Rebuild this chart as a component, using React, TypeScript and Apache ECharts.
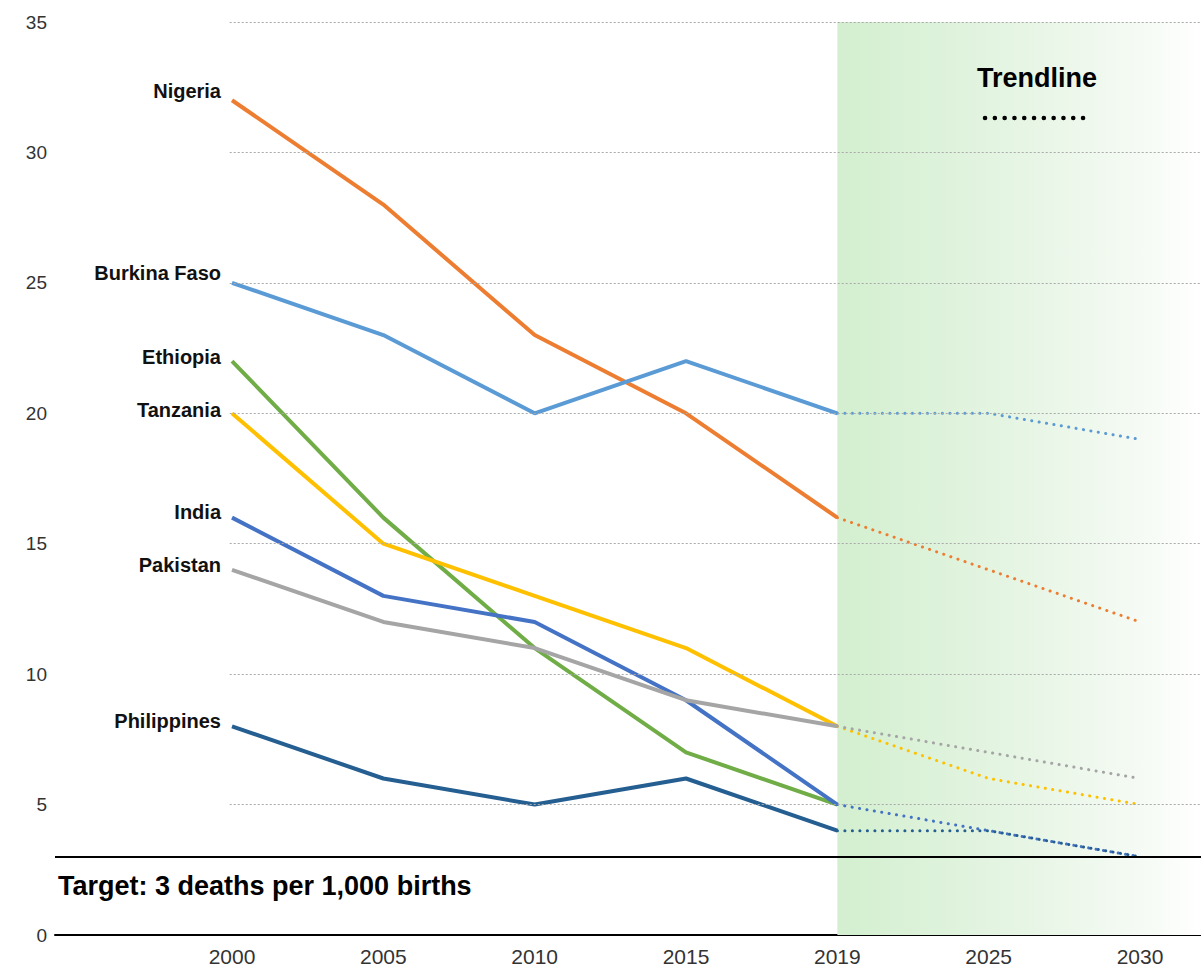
import React, { useEffect, useRef } from "react";
import * as echarts from "echarts";

const years = ["2000", "2005", "2010", "2015", "2019", "2025", "2030"];
const countries = ["Nigeria", "Burkina Faso", "Ethiopia", "Tanzania", "India", "Pakistan", "Philippines"];
const colors = ["#ED7D31", "#5B9BD5", "#70AD47", "#FFC000", "#4472C4", "#A5A5A5", "#255E91"];
const actual = [
  [32, 28, 23, 20, 16],
  [25, 23, 20, 22, 20],
  [22, 16, 11, 7, 5],
  [20, 15, 13, 11, 8],
  [16, 13, 12, 9, 5],
  [14, 12, 11, 9, 8],
  [8, 6, 5, 6, 4],
];
// trend values for 2019, 2025, 2030 (null = no trendline)
const trend = [
  [16, 14, 12],
  [20, 20, 19],
  null,
  [8, 6, 5],
  [5, 4, 3],
  [8, 7, 6],
  [4, 4, 3],
];
const labelLift = [9, 10, 4, 3, 6, 5, 5];
const yTicks = [5, 10, 15, 20, 25, 30, 35];
const targetValue = 3;

const FONT = "'Liberation Sans', Arial, Helvetica, sans-serif";
const X_MIN = -1.1696;
const X_MAX = 6.403;

export default function App() {
  const ref = useRef<HTMLDivElement>(null);
  useEffect(() => {
    document.body.style.margin = "0";
    const chart = echarts.init(ref.current!, null, { renderer: "svg" });
    const series: any[] = [];
    series.push({
      type: "line",
      data: [],
      silent: true,
      markArea: {
        silent: true,
        itemStyle: {
          color: {
            type: "linear", x: 0, y: 0, x2: 1, y2: 0,
            colorStops: [
              { offset: 0, color: "#d3efcf" },
              { offset: 0.5, color: "#e6f5e4" },
              { offset: 0.85, color: "#f6fbf5" },
              { offset: 1, color: "#ffffff" },
            ],
          },
        },
        data: [[{ coord: [4, 0] }, { coord: [X_MAX, 35] }]],
      },
      markLine: {
        silent: true,
        symbol: ["none", "none"],
        label: { show: false },
        lineStyle: { color: "#aaaaaa", type: [2, 2], width: 1 },
        data: [
          ...yTicks.map((v) => [{ coord: [-0.015, v] }, { coord: [X_MAX, v] }]),
          { yAxis: targetValue, lineStyle: { color: "#000", type: "solid", width: 2 } },
        ],
      },
    });
    countries.forEach((name, i) => {
      series.push({
        type: "line",
        name,
        data: actual[i].map((v, j) => [j, v]),
        showSymbol: false,
        lineStyle: { color: colors[i], width: 4 },
        itemStyle: { color: colors[i] },
        z: 3,
        markPoint: {
          symbol: "circle",
          symbolSize: 0,
          silent: true,
          data: [
            {
              coord: [0, actual[i][0]],
              label: {
                show: true,
                formatter: name,
                position: "left",
                distance: 11,
                offset: [0, -labelLift[i]],
                color: "#111",
                fontFamily: FONT,
                fontWeight: "bold",
                fontSize: 20,
              },
            },
          ],
        },
      });
    });
    countries.forEach((name, i) => {
      const t = trend[i];
      if (!t) return;
      series.push({
        type: "line",
        name: name + " trend",
        data: t.map((v, j) => [4 + j, v]),
        showSymbol: false,
        lineStyle: { color: colors[i], width: 3, type: [0.1, 7.4], cap: "round" },
        itemStyle: { color: colors[i] },
        z: 4,
      });
    });

    chart.setOption({
      animation: false,
      grid: { left: 55, right: 0, top: 22, bottom: 34, containLabel: false },
      xAxis: {
        type: "value",
        min: X_MIN,
        max: X_MAX,
        splitLine: { show: false },
        axisTick: { show: false },
        axisLine: { show: true, onZero: false, lineStyle: { color: "#000", width: 2 } },
        axisLabel: {
          customValues: [0, 1, 2, 3, 4, 5, 6],
          formatter: (v: number) => years[Math.round(v)] ?? "",
          color: "#333",
          fontSize: 21,
          fontFamily: FONT,
          margin: 11,
        },
      },
      yAxis: {
        type: "value",
        min: 0,
        max: 35,
        interval: 5,
        splitLine: { show: false },
        axisLine: { show: false },
        axisTick: { show: false },
        axisLabel: { color: "#333", fontSize: 19, fontFamily: FONT, margin: 8 },
      },
      series,
      graphic: [
        {
          type: "text",
          z: 100,
          x: 58,
          y: 886,
          style: {
            text: "Target: 3 deaths per 1,000 births",
            font: `bold 27px ${FONT}`,
            fill: "#000",
            textAlign: "left",
            textVerticalAlign: "middle",
          },
        },
        {
          type: "text",
          z: 100,
          x: 1037,
          y: 78,
          style: {
            text: "Trendline",
            font: `bold 27px ${FONT}`,
            fill: "#000",
            textAlign: "center",
            textVerticalAlign: "middle",
          },
        },
        {
          type: "line",
          z: 100,
          shape: { x1: 985, y1: 118, x2: 1092, y2: 118 },
          style: { stroke: "#000", lineWidth: 4.5, lineDash: [0.1, 9.7], lineCap: "round" },
        },
      ],
    });
    return () => chart.dispose();
  }, []);
  return <div ref={ref} style={{ width: 1201, height: 969 }} />;
}
